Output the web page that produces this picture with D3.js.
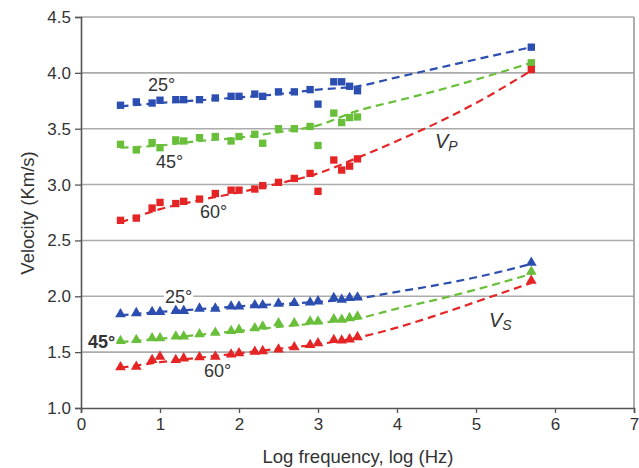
<!DOCTYPE html>
<html><head><meta charset="utf-8">
<script src="https://cdn.jsdelivr.net/npm/d3@7"></script>
<style>body{margin:0;background:#fff}svg{display:block}text{font-family:"Liberation Sans",Arial,sans-serif}</style>
</head><body><svg id="c" width="639" height="468"></svg>
<script>
// x positions (log frequency) of measurements
const logFreq = [0.5,0.7,0.9,1.0,1.2,1.3,1.5,1.7,1.9,2.0,2.2,2.3,2.5,2.7,2.9,3.0,3.2,3.3,3.4,3.5,5.7];
// Vp squares
const vp25 = [3.71,3.74,3.73,3.755,3.76,3.76,3.76,3.775,3.79,3.79,3.81,3.79,3.83,3.83,3.85,3.72,3.92,3.92,3.88,3.84,4.23];
const vp45 = [3.36,3.31,3.375,3.33,3.40,3.39,3.42,3.43,3.39,3.43,3.45,3.37,3.50,3.50,3.52,3.35,3.64,3.555,3.60,3.605,4.09];
const vp60 = [2.68,2.70,2.79,2.84,2.83,2.85,2.87,2.92,2.95,2.95,2.96,2.99,3.02,3.055,3.10,2.94,3.22,3.13,3.165,3.23,4.03];
// Vs triangles
const vs25 = [1.84,1.85,1.86,1.86,1.87,1.87,1.89,1.89,1.91,1.91,1.92,1.92,1.935,1.94,1.945,1.955,1.985,1.97,1.985,1.99,2.30];
const vs45 = [1.60,1.61,1.625,1.625,1.64,1.64,1.66,1.675,1.69,1.70,1.715,1.73,1.76,1.76,1.775,1.775,1.795,1.79,1.805,1.82,2.22];
const vs60 = [1.365,1.37,1.43,1.46,1.43,1.445,1.455,1.46,1.48,1.49,1.505,1.51,1.525,1.545,1.565,1.58,1.61,1.605,1.615,1.635,2.14];
// dashed trend curves
const trendX = [0.5,1.0,1.5,2.0,2.5,3.0,3.5,4.0,4.5,5.0,5.7];
const tVp25 = [3.70,3.73,3.755,3.78,3.81,3.85,3.88,3.96,4.04,4.12,4.23];
const tVp45 = [3.33,3.35,3.39,3.42,3.47,3.53,3.66,3.75,3.84,3.94,4.09];
const tVp60 = [2.66,2.78,2.86,2.93,3.01,3.10,3.24,3.39,3.55,3.73,4.02];
const tVs25 = [1.83,1.86,1.885,1.91,1.93,1.95,1.98,2.04,2.10,2.17,2.29];
const tVs45 = [1.59,1.62,1.655,1.69,1.725,1.76,1.80,1.89,1.97,2.06,2.20];
const tVs60 = [1.36,1.41,1.45,1.49,1.53,1.57,1.63,1.72,1.83,1.95,2.12];
const xTicks = [0,1,2,3,4,5,6,7];
const yTicks = [1.0,1.5,2.0,2.5,3.0,3.5,4.0,4.5];

const blue="#2c4eb0", green="#69bf3a", red="#e52525";
const svg=d3.select("#c");
const L=81,R=634,T=17,B=408;
const x=d3.scaleLinear().domain([0,7]).range([L,R]);
const y=d3.scaleLinear().domain([1,4.5]).range([B,T]);

// grid
svg.append("g").selectAll("line").data(yTicks.filter(d=>d>1)).join("line")
 .attr("x1",L).attr("x2",R).attr("y1",d=>y(d)).attr("y2",d=>y(d))
 .attr("stroke","#ababab").attr("stroke-width",1.6);
svg.append("line").attr("x1",R).attr("x2",R).attr("y1",T).attr("y2",B).attr("stroke","#9a9a9a").attr("stroke-width",1.6);

// axes
const ax=svg.append("g").attr("transform",`translate(0,${B})`)
 .call(d3.axisBottom(x).tickValues(xTicks).tickFormat(d3.format("d")).tickSize(5).tickPadding(5));
const ay=svg.append("g").attr("transform",`translate(${L},0)`)
 .call(d3.axisLeft(y).tickValues(yTicks).tickFormat(d3.format(".1f")).tickSize(6).tickPadding(4));
[ax,ay].forEach(g=>{g.selectAll("path").attr("stroke","#555").attr("stroke-width",1.6);
 g.selectAll("line").attr("stroke","#555").attr("stroke-width",1.3);
 g.selectAll("text").attr("font-size",17).attr("fill","#333");});

svg.append("text").attr("x",358).attr("y",463).attr("text-anchor","middle").attr("font-size",18.5).attr("fill","#333").text("Log frequency, log (Hz)");
svg.append("text").attr("transform","translate(34,213) rotate(-90)").attr("text-anchor","middle").attr("font-size",18.5).attr("fill","#333").text("Velocity (Km/s)");

const line=d3.line().x((d,i)=>x(trendX[i])).y(d=>y(d)).curve(d3.curveMonotoneX);
const trends=[[tVp25,blue],[tVp45,green],[tVp60,red],[tVs25,blue],[tVs45,green],[tVs60,red]];
trends.forEach(([t,c])=>svg.append("path").attr("d",line(t)).attr("fill","none").attr("stroke",c).attr("stroke-width",2.2).attr("stroke-dasharray","8,5"));

const sq=d3.symbol().type(d3.symbolSquare).size(54);
const tri=d3.symbol().type(d3.symbolTriangle).size(50);
[[vp25,blue],[vp45,green],[vp60,red]].forEach(([s,c])=>
 svg.append("g").selectAll("path").data(s).join("path").attr("d",sq)
  .attr("transform",(d,i)=>`translate(${x(logFreq[i])},${y(d)})`).attr("fill",c));
[[vs25,blue],[vs45,green],[vs60,red]].forEach(([s,c])=>
 svg.append("g").selectAll("path").data(s).join("path").attr("d",tri)
  .attr("transform",(d,i)=>`translate(${x(logFreq[i])},${y(d)})`).attr("fill",c));

// labels
function lab(tx,px,py,bold){
 const g=svg.append("g");
 const t=g.append("text").attr("x",px).attr("y",py).attr("font-size",18).attr("fill","#333")
  .attr("font-weight",bold?"bold":"normal").text(tx);
 const bb=t.node().getBBox();
 g.insert("rect","text").attr("x",bb.x-1).attr("y",bb.y+3).attr("width",bb.width+2).attr("height",bb.height-5).attr("fill","#fff");
}
lab("25°",148,91);lab("45°",156,168);lab("60°",200,218);
lab("25°",165,303);lab("45°",88,348,true);lab("60°",204,377);
function vlab(main,sub,px,py){
 const t=svg.append("text").attr("x",px).attr("y",py).attr("font-size",20).attr("fill","#333").attr("font-style","italic");
 t.append("tspan").text(main);
 t.append("tspan").attr("font-size",14).attr("dy",3).text(sub);
}
vlab("V","P",435,148);vlab("V","S",489,327);
</script></body></html>
